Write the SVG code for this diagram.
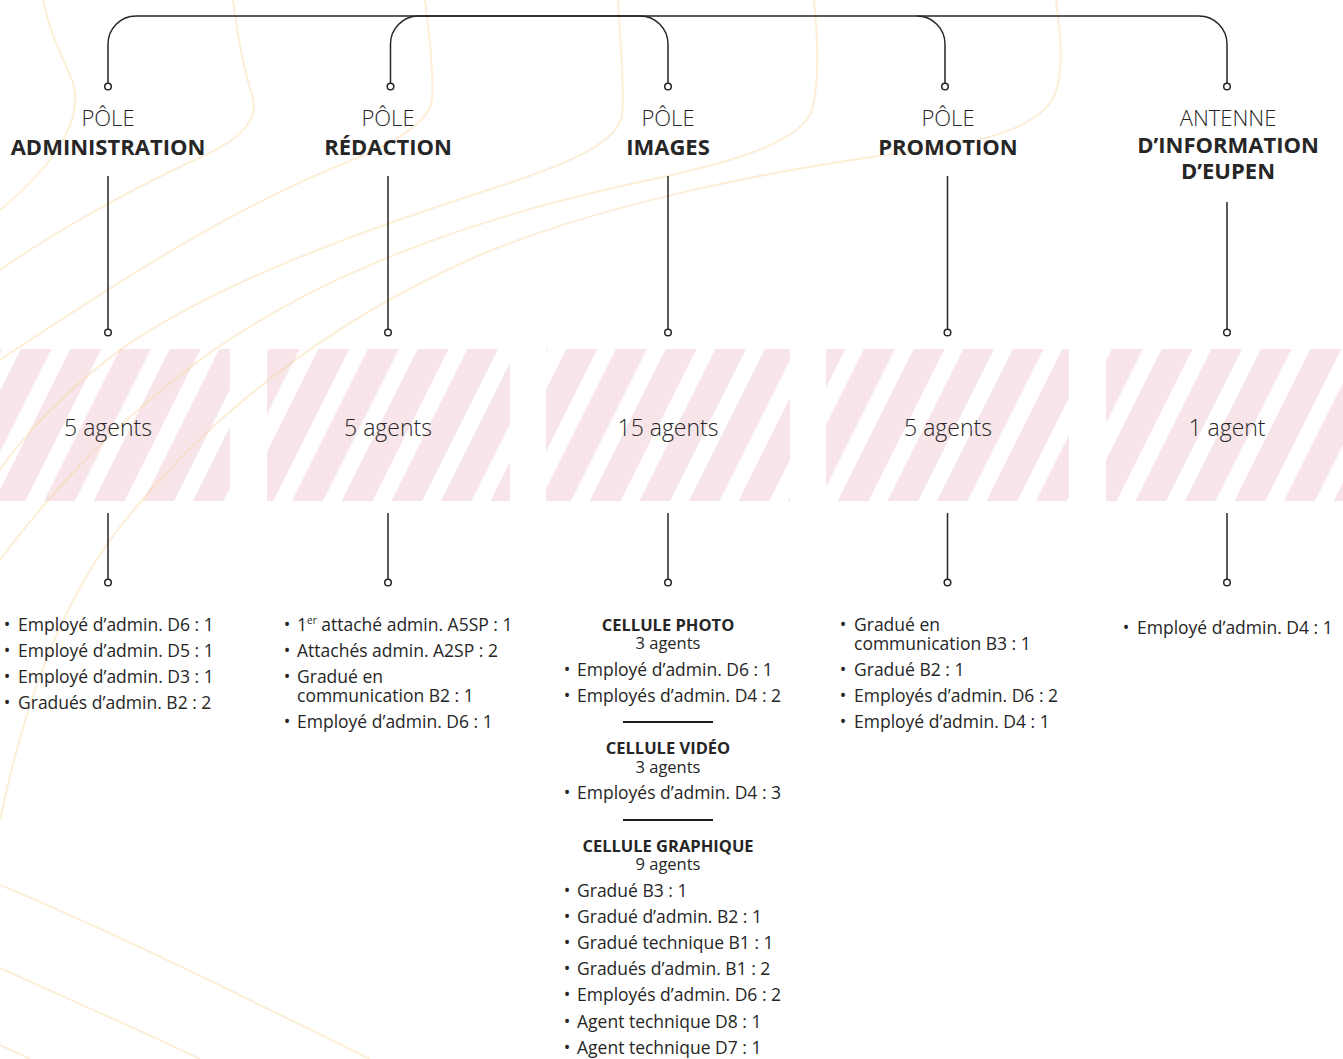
<svg xmlns="http://www.w3.org/2000/svg" width="1343" height="1059" viewBox="0 0 1343 1059">
<style>
.t{font-family:"Open Sans","Liberation Sans",sans-serif;fill:#262626}
.lt{font-weight:300;font-size:22px}
.bd{font-weight:700;font-size:22px}
.cnt{font-weight:300;font-size:23px}
.li{font-size:17.5px}
.hd{font-weight:700;font-size:16.5px}
.sub{font-weight:400;font-size:16.5px}
.conn{stroke:#262626;stroke-width:1.5;fill:none}
.dot{fill:#fff;stroke:#262626;stroke-width:1.5}
.bg{fill:none;stroke:#f8d7a0;stroke-opacity:0.42;stroke-width:2}
.sep{stroke:#1e1e1e;stroke-width:2}
</style>
<defs>
<pattern id="stripes" patternUnits="userSpaceOnUse" width="49.6" height="20" patternTransform="skewX(-26.565) translate(46.5,0)">
<rect x="0" y="0" width="31" height="20" fill="#f7e5e9"/>
</pattern>
</defs>
<rect width="1343" height="1059" fill="#fff"/>
<g id="bands">
<rect x="0" y="349" width="230" height="152" fill="url(#stripes)"/>
<rect x="267" y="349" width="243" height="152" fill="url(#stripes)"/>
<rect x="546" y="349" width="244" height="152" fill="url(#stripes)"/>
<rect x="826" y="349" width="243" height="152" fill="url(#stripes)"/>
<rect x="1106" y="349" width="237" height="152" fill="url(#stripes)"/>
</g>
<g id="background">
<path class="bg" d="M43,0 C50,35 62,55 72,80 C85,115 60,160 0,210"/>
<path class="bg" d="M233,0 C238,40 244,70 252,95 C262,125 230,145 190,162 C120,195 50,235 0,270"/>
<path class="bg" d="M425,0 C430,40 434,80 432,100 C428,125 390,145 340,165 C230,210 120,280 0,360"/>
<path class="bg" d="M618,0 C620,40 625,90 622,115 C618,140 580,160 500,186 C370,228 220,280 120,350 C60,395 20,440 0,470"/>
<path class="bg" d="M814,0 C817,30 820,80 812,110 C800,145 720,165 640,182 C500,212 330,265 200,360 C120,420 60,480 0,560"/>
<path class="bg" d="M1056,0 C1060,30 1066,75 1052,100 C1030,135 960,145 900,153 C760,172 600,205 480,255 C330,320 200,420 110,540 C60,610 25,700 0,820"/>
<path class="bg" d="M0,885 C120,935 250,1000 370,1059"/>
<path class="bg" d="M0,968 C70,1000 140,1030 200,1059"/>
<path class="bg" d="M0,1045 L30,1059"/>
</g>
<g id="connectors">
<path class="conn" d="M108,83 V44 A28,28 0 0 1 136,16 H1199 A28,28 0 0 1 1227,44 V83"/>
<path class="conn" d="M390.5,83 V44 A28,28 0 0 1 418.5,16 H640 A28,28 0 0 1 668,44 V83"/>
<path class="conn" d="M917,16 A28,28 0 0 1 945,44 V83"/>
<path class="conn" d="M108,176 V329 M388,176 V329 M668,176 V329 M947.5,176 V329 M1227,202 V329"/>
<path class="conn" d="M108,513 V579 M388,513 V579 M668,513 V579 M947.5,513 V579 M1227,513 V579"/>
<circle class="dot" cx="108" cy="86.5" r="3.3"/>
<circle class="dot" cx="390.5" cy="86.5" r="3.3"/>
<circle class="dot" cx="668" cy="86.5" r="3.3"/>
<circle class="dot" cx="945" cy="86.5" r="3.3"/>
<circle class="dot" cx="1227" cy="86.5" r="3.3"/>
<circle class="dot" cx="108" cy="332.5" r="3.3"/>
<circle class="dot" cx="388" cy="332.5" r="3.3"/>
<circle class="dot" cx="668" cy="332.5" r="3.3"/>
<circle class="dot" cx="947.5" cy="332.5" r="3.3"/>
<circle class="dot" cx="1227" cy="332.5" r="3.3"/>
<circle class="dot" cx="108" cy="582.5" r="3.3"/>
<circle class="dot" cx="388" cy="582.5" r="3.3"/>
<circle class="dot" cx="668" cy="582.5" r="3.3"/>
<circle class="dot" cx="947.5" cy="582.5" r="3.3"/>
<circle class="dot" cx="1227" cy="582.5" r="3.3"/>
</g>
<g id="pole-administration" class="t">
<text class="lt" x="108" y="126" text-anchor="middle">PÔLE</text>
<text class="bd" x="108" y="155" text-anchor="middle">ADMINISTRATION</text>
<text class="cnt" x="108" y="436" text-anchor="middle">5 agents</text>
<g class="li">
<text x="7" y="631" text-anchor="middle">•</text><text x="18" y="631">Employé d’admin. D6 : 1</text>
<text x="7" y="657" text-anchor="middle">•</text><text x="18" y="657">Employé d’admin. D5 : 1</text>
<text x="7" y="683" text-anchor="middle">•</text><text x="18" y="683">Employé d’admin. D3 : 1</text>
<text x="7" y="709" text-anchor="middle">•</text><text x="18" y="709">Gradués d’admin. B2 : 2</text>
</g>
</g>
<g id="pole-redaction" class="t">
<text class="lt" x="388" y="126" text-anchor="middle">PÔLE</text>
<text class="bd" x="388" y="155" text-anchor="middle">RÉDACTION</text>
<text class="cnt" x="388" y="436" text-anchor="middle">5 agents</text>
<g class="li">
<text x="287" y="631" text-anchor="middle">•</text><text x="297" y="631">1<tspan font-size="10" dy="-7">er</tspan><tspan dy="7"> attaché admin. A5SP : 1</tspan></text>
<text x="287" y="657" text-anchor="middle">•</text><text x="297" y="657">Attachés admin. A2SP : 2</text>
<text x="287" y="683" text-anchor="middle">•</text><text x="297" y="683">Gradué en<tspan x="297" dy="19">communication B2 : 1</tspan></text>
<text x="287" y="728" text-anchor="middle">•</text><text x="297" y="728">Employé d’admin. D6 : 1</text>
</g>
</g>
<g id="pole-images" class="t">
<text class="lt" x="668" y="126" text-anchor="middle">PÔLE</text>
<text class="bd" x="668" y="155" text-anchor="middle">IMAGES</text>
<text class="cnt" x="668" y="436" text-anchor="middle">15 agents</text>
<text x="668" y="631" text-anchor="middle"><tspan class="hd">CELLULE PHOTO</tspan><tspan class="sub" x="668" dy="18">3 agents</tspan></text>
<g class="li">
<text x="567" y="676" text-anchor="middle">•</text><text x="577" y="676">Employé d’admin. D6 : 1</text>
<text x="567" y="702" text-anchor="middle">•</text><text x="577" y="702">Employés d’admin. D4 : 2</text>
</g>
<line class="sep" x1="623" y1="722" x2="713" y2="722"/>
<text x="668" y="754" text-anchor="middle"><tspan class="hd">CELLULE VIDÉO</tspan><tspan class="sub" x="668" dy="19">3 agents</tspan></text>
<g class="li">
<text x="567" y="799" text-anchor="middle">•</text><text x="577" y="799">Employés d’admin. D4 : 3</text>
</g>
<line class="sep" x1="623" y1="820" x2="713" y2="820"/>
<text x="668" y="852" text-anchor="middle"><tspan class="hd">CELLULE GRAPHIQUE</tspan><tspan class="sub" x="668" dy="18">9 agents</tspan></text>
<g class="li">
<text x="567" y="897" text-anchor="middle">•</text><text x="577" y="897">Gradué B3 : 1</text>
<text x="567" y="923" text-anchor="middle">•</text><text x="577" y="923">Gradué d’admin. B2 : 1</text>
<text x="567" y="949" text-anchor="middle">•</text><text x="577" y="949">Gradué technique B1 : 1</text>
<text x="567" y="975" text-anchor="middle">•</text><text x="577" y="975">Gradués d’admin. B1 : 2</text>
<text x="567" y="1001" text-anchor="middle">•</text><text x="577" y="1001">Employés d’admin. D6 : 2</text>
<text x="567" y="1028" text-anchor="middle">•</text><text x="577" y="1028">Agent technique D8 : 1</text>
<text x="567" y="1054" text-anchor="middle">•</text><text x="577" y="1054">Agent technique D7 : 1</text>
</g>
</g>
<g id="pole-promotion" class="t">
<text class="lt" x="948" y="126" text-anchor="middle">PÔLE</text>
<text class="bd" x="948" y="155" text-anchor="middle">PROMOTION</text>
<text class="cnt" x="948" y="436" text-anchor="middle">5 agents</text>
<g class="li">
<text x="843" y="631" text-anchor="middle">•</text><text x="854" y="631">Gradué en<tspan x="854" dy="19">communication B3 : 1</tspan></text>
<text x="843" y="676" text-anchor="middle">•</text><text x="854" y="676">Gradué B2 : 1</text>
<text x="843" y="702" text-anchor="middle">•</text><text x="854" y="702">Employés d’admin. D6 : 2</text>
<text x="843" y="728" text-anchor="middle">•</text><text x="854" y="728">Employé d’admin. D4 : 1</text>
</g>
</g>
<g id="antenne-eupen" class="t">
<text class="lt" x="1228" y="126" text-anchor="middle">ANTENNE</text>
<text class="bd" x="1228" y="153" text-anchor="middle">D’INFORMATION<tspan x="1228" dy="26">D’EUPEN</tspan></text>
<text class="cnt" x="1227" y="436" text-anchor="middle">1 agent</text>
<g class="li">
<text x="1126" y="634" text-anchor="middle">•</text><text x="1137" y="634">Employé d’admin. D4 : 1</text>
</g>
</g>
</svg>
